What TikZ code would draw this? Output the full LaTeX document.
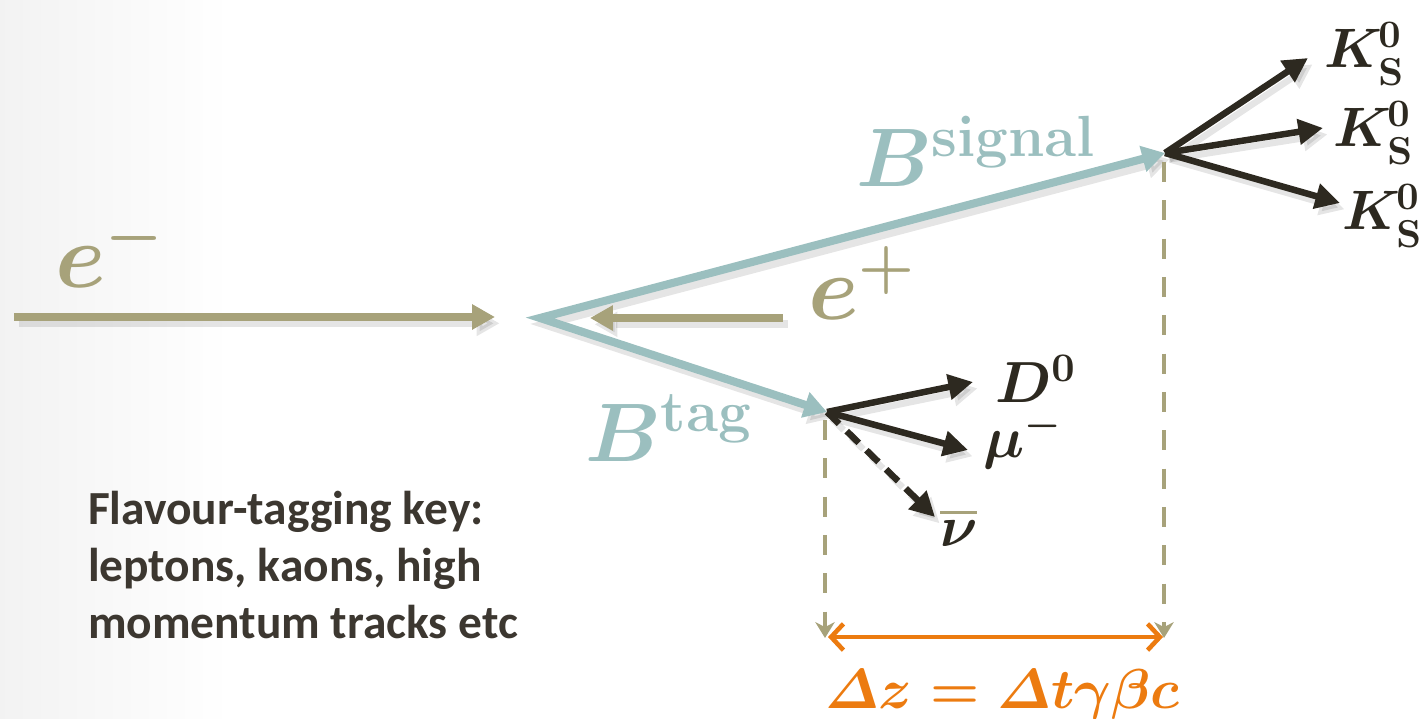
\RequirePackage{fix-cm}
\documentclass[tikz,border=0pt]{standalone}
\usepackage{amsmath}
\usepackage{fontspec}
\newfontfamily\calib{Carlito}
\usetikzlibrary{arrows.meta}
\definecolor{beamolive}{RGB}{167,162,122}
\definecolor{beamteal}{RGB}{155,191,191}
\definecolor{beamdark}{RGB}{45,41,32}
\definecolor{beamorange}{RGB}{236,123,16}
\definecolor{beamtext}{RGB}{60,55,48}
\tikzset{
  every node/.style={inner sep=0pt, outer sep=0pt},
  beamline/.style={draw=beamolive, line width=2.2pt, -{Triangle[length=6.5pt,width=6.8pt]}},
  bline/.style={draw=beamteal, line width=2.3pt, line join=miter,
    {Triangle[length=6.5pt,width=7.2pt]}-{Triangle[length=6.5pt,width=7.2pt]}},
  darkarrow/.style={draw=beamdark, line width=1.85pt, -{Triangle[length=7pt,width=7pt]}},
  nuarrow/.style={darkarrow, dash pattern=on 4.8pt off 3pt},
  vdash/.style={draw=beamolive, line width=1.3pt, dash pattern=on 5.7pt off 5.2pt,
    -{Stealth[length=4.5pt,width=5.5pt,inset=1.4pt]}},
  dzarrow/.style={draw=beamorange, line width=1.3pt,
    {Straight Barb[length=3.5pt,width=7.5pt]}-{Straight Barb[length=3.5pt,width=7.5pt]}},
  shad/.style={draw=black, draw opacity=0.1, fill opacity=0.1,
    transform canvas={shift={(1.3pt,-1.8pt)}}},
  biglabel/.style={anchor=base west, font=\fontsize{26pt}{30pt}\selectfont\boldmath, text=beamolive},
  blabel/.style={anchor=base west, font=\fontsize{23.6pt}{28pt}\selectfont\boldmath, text=beamteal},
  plabel/.style={anchor=base west, font=\fontsize{16.5pt}{20pt}\selectfont\boldmath, text=beamdark},
  klabel/.style={anchor=base west, font=\fontsize{15.8pt}{19pt}\selectfont\boldmath, text=beamdark},
}
\newcommand{\kshort}{$K\mkern-1mu{}^{\mathbf{0}}_{\mathbf{S}}$}
\begin{document}
\begin{tikzpicture}[x=0.01cm, y=-0.01cm]
\useasboundingbox (0,0) rectangle (1419,719);
\shade[left color=black!5, right color=white] (0,0) rectangle (230,719);

% coordinates
\coordinate (emstart) at (14,317);
\coordinate (emend) at (495,317);
\coordinate (epstart) at (783,318);
\coordinate (epend) at (590,318);
\coordinate (vtx) at (540,318);
\coordinate (sig) at (1165,153);
\coordinate (tag) at (827,412);
\coordinate (k1) at (1308,58);
\coordinate (k2) at (1323,128);
\coordinate (k3) at (1340,203);
\coordinate (d0) at (973,382);
\coordinate (mu) at (968,450);
\coordinate (nu) at (935,517);
\coordinate (tagtop) at (825,420);
\coordinate (tagbot) at (825,638);
\coordinate (sigtop) at (1164,162);
\coordinate (sigbot) at (1164,638);
\coordinate (dzl) at (828,637);
\coordinate (dzr) at (1163,637);

% shadows
\draw[beamline, shad] (emstart) -- (emend);
\draw[beamline, shad] (epstart) -- (epend);
\draw[bline, shad] (sig) -- (vtx) -- (tag);
\draw[darkarrow, shad] (sig) -- (k1);
\draw[darkarrow, shad] (sig) -- (k2);
\draw[darkarrow, shad] (sig) -- (k3);
\draw[darkarrow, shad] (tag) -- (d0);
\draw[darkarrow, shad] (tag) -- (mu);
\draw[nuarrow, shad] (tag) -- (nu);

% beams
\draw[beamline] (emstart) -- (emend);
\draw[beamline] (epstart) -- (epend);

% vertical dashed lines
\draw[vdash] (tagtop) -- (tagbot);
\draw[vdash] (sigtop) -- (sigbot);

% B mesons
\draw[bline] (sig) -- (vtx) -- (tag);

% decay products
\draw[darkarrow] (sig) -- (k1);
\draw[darkarrow] (sig) -- (k2);
\draw[darkarrow] (sig) -- (k3);
\draw[darkarrow] (tag) -- (d0);
\draw[darkarrow] (tag) -- (mu);
\draw[nuarrow] (tag) -- (nu);

% Delta z
\draw[dzarrow] (dzl) -- (dzr);

% labels
\node[biglabel] (lem) at (55,288) {$e^{-}$};
\node[biglabel] (lep) at (808,320) {$e^{+}$};
\node[blabel] (lbs) at (856,187) {$B^{\mathbf{signal}}$};
\node[blabel] (lbt) at (585,462) {$B^{\mathbf{tag}}$};
\node[klabel] (lk1) at (1324,68) {\kshort};
\node[klabel] (lk2) at (1333,147) {\kshort};
\node[klabel] (lk3) at (1342,230) {\kshort};
\node[plabel] (ld0) at (995,403) {$D^{\mathbf{0}}$};
\node[plabel] (lmu) at (983,458) {$\mu^{-}$};
\node[plabel] (lnu) at (940,547) {$\textcolor{beamolive}{\overline{\textcolor{beamdark}{\nu}}}$};
\node[anchor=base west, font=\fontsize{16pt}{19pt}\selectfont\boldmath, text=beamorange] (ldz) at (825,708)
  {$\varDelta z=\varDelta t\gamma\beta c$};
\node[anchor=north west, align=left, text=beamtext,
  font=\calib\bfseries\fontsize{13.5pt}{16.2pt}\selectfont] (key) at (88,491)
  {Flavour-tagging key:\\leptons, kaons, high\\momentum tracks etc};
\end{tikzpicture}
\end{document}
